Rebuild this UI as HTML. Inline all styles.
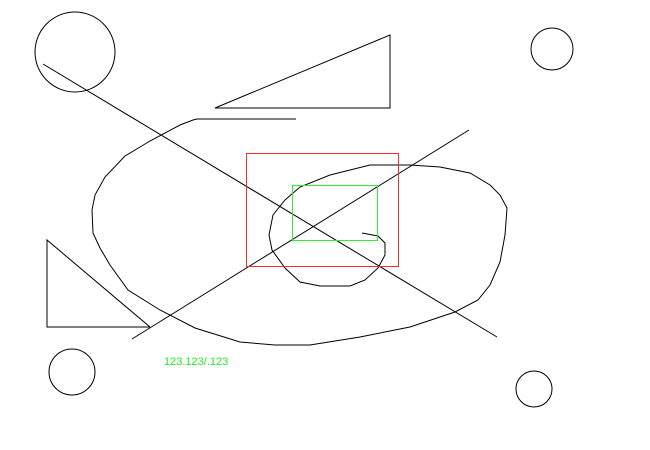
<!DOCTYPE html>
<html><head><meta charset="utf-8"><style>html,body{margin:0;padding:0;background:#fff}svg{display:block}</style></head>
<body>
<svg width="650" height="450" viewBox="0 0 650 450" xmlns="http://www.w3.org/2000/svg">
<g fill="none" stroke="#000" stroke-width="1">
<circle cx="75" cy="52" r="40"/>
<circle cx="552" cy="49" r="21"/>
<circle cx="72" cy="372" r="23"/>
<circle cx="534" cy="389" r="18"/>
<polygon points="215,108 390,35 390,108"/>
<polyline points="150,327 47,240 47,327 150,327"/>
<line x1="43" y1="64" x2="497" y2="337"/>
<line x1="132" y1="339" x2="469" y2="130"/>
<polyline points="296,119 197,119 193,120 180,125 150,141 125,156 105,177 95,195 92,210 93,233 100,248 110,265 128,290 160,310 195,328 240,342 275,345 310,345 360,337 410,327 455,312 478,300 490,285 500,262 505,235 507,208 500,195 490,185 470,173 440,167 410,165 370,165 330,175 300,187 285,200 273,215 269,235 272,250 285,268 300,282 320,286 350,286 365,280 378,268 385,255 385,243 378,236 362,233"/>
</g>
<rect x="246.5" y="153.5" width="152" height="113" fill="none" stroke="#ff2a2a"/>
<rect x="292.5" y="185.5" width="85" height="55" fill="none" stroke="#33ee33"/>
<text x="164" y="365" font-family="Liberation Sans, sans-serif" font-size="11" fill="#22ee22">123.123/.123</text>
</svg>
</body></html>
